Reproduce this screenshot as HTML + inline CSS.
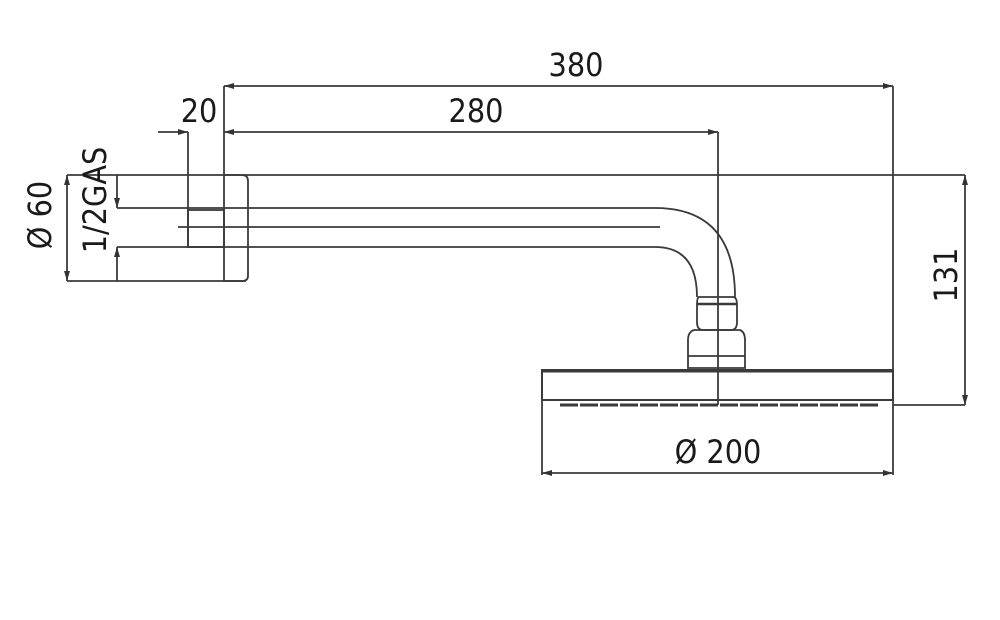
<!DOCTYPE html>
<html><head><meta charset="utf-8"><style>
html,body{margin:0;padding:0;background:#fff;}
svg{display:block;}
text{font-family:"DejaVu Sans Condensed","Liberation Sans",sans-serif;fill:#1a1a1a;}
</style></head><body>
<svg width="1000" height="620" viewBox="0 0 1000 620" xmlns="http://www.w3.org/2000/svg">
<defs>
<marker id="a" viewBox="0 0 10 6" refX="10" refY="3" markerWidth="10" markerHeight="6" orient="auto-start-reverse" markerUnits="userSpaceOnUse"><path d="M0,0 L10,3 L0,6z" fill="#333"/></marker>
</defs>
<g stroke="#3a3a3a" stroke-width="1.8" fill="none">
<line x1="224" y1="86" x2="893" y2="86" marker-start="url(#a)" marker-end="url(#a)"/>
<line x1="224" y1="86" x2="224" y2="282"/>
<line x1="893" y1="86" x2="893" y2="405"/>
<line x1="224" y1="132" x2="718" y2="132" marker-start="url(#a)" marker-end="url(#a)"/>
<line x1="718" y1="132" x2="718" y2="405"/>
<line x1="158" y1="132" x2="188" y2="132" marker-end="url(#a)"/>
<line x1="188" y1="132" x2="188" y2="247"/>
<line x1="67" y1="175" x2="965" y2="175"/>
<line x1="965" y1="175" x2="965" y2="405" marker-start="url(#a)" marker-end="url(#a)"/>
<line x1="893" y1="405" x2="965" y2="405"/>
<line x1="67" y1="175" x2="67" y2="281" marker-start="url(#a)" marker-end="url(#a)"/>
<line x1="67" y1="281" x2="246" y2="281"/>
<line x1="117" y1="175" x2="117" y2="208" marker-end="url(#a)"/>
<line x1="117" y1="281" x2="117" y2="247" marker-end="url(#a)"/>
<line x1="117" y1="208" x2="248" y2="208"/>
<line x1="117" y1="247" x2="248" y2="247"/>
<path d="M224,175 H242 Q248,175 248,181 V276 Q248,281 242,281 H224"/>
<rect x="188" y="210" width="36" height="37"/>
<line x1="178" y1="227" x2="660" y2="227"/>
<path d="M248,208 H655 Q735,208 735,297"/>
<path d="M248,247 H655 Q697,247 697,297"/>
<path d="M699,297 H733 Q737,297 737,305 V322 Q737,330 731,330 H703 Q697,330 697,322 V305 Q697,297 699,297z"/>
<line x1="697" y1="304" x2="737" y2="304" stroke-width="2.5"/>
<path d="M694,330 H740 Q745,332 745,340 V368 H688 V340 Q688,332 694,330z"/>
<line x1="688" y1="356" x2="745" y2="356"/>
<rect x="542" y="370" width="351" height="30" stroke-width="2"/>
<line x1="542" y1="371" x2="893" y2="371" stroke-width="3"/>
<line x1="560" y1="405" x2="880" y2="405" stroke-width="3" stroke-dasharray="18,2"/>
<line x1="542" y1="400" x2="542" y2="475"/>
<line x1="542" y1="473" x2="893" y2="473" marker-start="url(#a)" marker-end="url(#a)"/>
<line x1="893" y1="405" x2="893" y2="475"/>
</g>
<g font-size="32">
<text x="576" y="76" text-anchor="middle">380</text>
<text x="476" y="122" text-anchor="middle">280</text>
<text x="199" y="122" text-anchor="middle">20</text>
<text x="718" y="463" text-anchor="middle">Ø 200</text>
<text transform="translate(51,215) rotate(-90)" text-anchor="middle">Ø 60</text>
<text transform="translate(106,200) rotate(-90)" text-anchor="middle">1/2GAS</text>
<text transform="translate(957,275) rotate(-90)" text-anchor="middle">131</text>
</g>
</svg>
</body></html>
